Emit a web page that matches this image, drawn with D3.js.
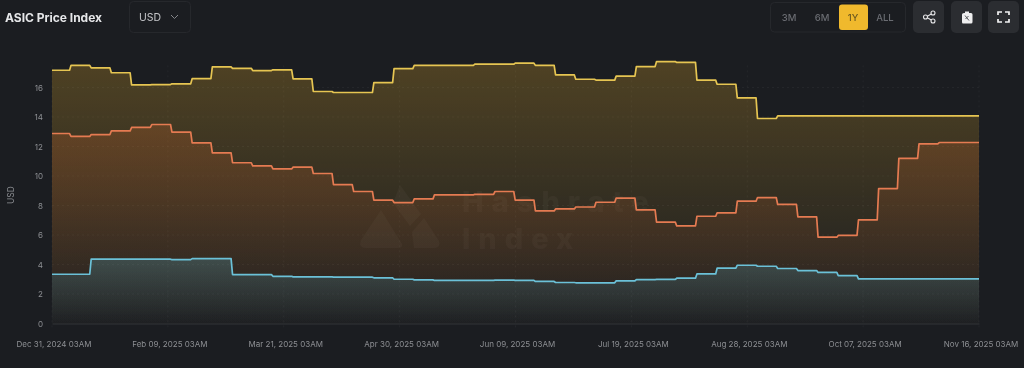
<!DOCTYPE html>
<html>
<head>
<meta charset="utf-8">
<script src="https://cdn.jsdelivr.net/npm/d3@7"></script>
<style>
  html, body { margin: 0; padding: 0; background: #1b1d21; overflow: hidden; }
  svg { display: block; font-family: Inter, "Noto Sans", sans-serif; filter: blur(0.45px); }
</style>
</head>
<body>
<div id="chart"></div>
<script>
// weekly index values, one per step
var yellowValues = [17.17, 17.5, 17.33, 17.0, 16.18, 16.2, 16.25, 16.6, 17.4, 17.3, 17.15, 17.2, 16.58, 15.73, 15.66, 15.66,
  16.33, 17.28, 17.5, 17.5, 17.5, 17.58, 17.58, 17.65, 17.5, 16.85, 16.56, 16.5, 16.77, 17.42, 17.76, 17.7,
  16.5, 16.22, 15.3, 13.9, 14.08, 14.08, 14.08, 14.08, 14.08, 14.08, 14.08, 14.08, 14.08, 14.08];
var orangeValues = [12.88, 12.68, 12.81, 13.06, 13.29, 13.49, 12.97, 12.24, 11.57, 10.9, 10.68, 10.48, 10.6, 10.17, 9.42, 8.95,
  8.36, 8.2, 8.45, 8.72, 8.72, 8.76, 8.95, 8.36, 7.63, 7.77, 7.9, 8.22, 8.5, 7.7, 6.87, 6.62,
  7.27, 7.5, 8.29, 8.54, 8.07, 7.23, 5.85, 5.97, 7.02, 9.15, 11.19, 12.18, 12.27, 12.27];
var blueValues = [3.34, 3.34, 4.36, 4.36, 4.36, 4.36, 4.33, 4.4, 4.4, 3.32, 3.31, 3.2, 3.16, 3.16, 3.14, 3.14,
  3.1, 3.0, 2.96, 2.92, 2.92, 2.92, 2.94, 2.92, 2.85, 2.78, 2.76, 2.76, 2.89, 2.98, 2.99, 3.07,
  3.36, 3.75, 3.95, 3.88, 3.73, 3.59, 3.46, 3.25, 3.03, 3.03, 3.03, 3.03, 3.03, 3.03];
var tickDates = ["2024-12-31", "2025-02-09", "2025-03-21", "2025-04-30", "2025-06-09", "2025-07-19", "2025-08-28", "2025-10-07", "2025-11-16"];
var yTicks = [0, 2, 4, 6, 8, 10, 12, 14, 16];
var rangeButtons = ["3M", "6M", "1Y", "ALL"];

var width = 1024, height = 368;
var margin = { top: 56, right: 45, bottom: 44.5, left: 52 };

var parse = d3.utcParse("%Y-%m-%d");
var fmt = d3.utcFormat("%b %d, %Y 03AM");
var DAY = 86400000;
var startTime = parse(tickDates[0]).getTime();
var endDate = parse(tickDates[tickDates.length - 1]);

var x = d3.scaleUtc()
  .domain([parse(tickDates[0]), endDate])
  .range([margin.left, width - margin.right]);
var y = d3.scaleLinear()
  .domain([0, 18])
  .range([height - margin.bottom, height - margin.bottom - 18 * 14.75]);

// the steps are a bit under a week apart and take about half a day to rise
function stepStart(i) {
  return i === 0 ? 0 : 6.56 + (i - 1) * 6.97;
}
function toPoints(values) {
  var pts = [];
  values.forEach(function (v, i) {
    var from = stepStart(i), to = i === values.length - 1 ? 320 : stepStart(i + 1) - 0.5;
    pts.push({ date: new Date(startTime + from * DAY), value: v });
    pts.push({ date: new Date(startTime + to * DAY), value: v });
  });
  return pts;
}

var svg = d3.select("#chart").append("svg")
  .attr("width", width)
  .attr("height", height);

var defs = svg.append("defs");

var series = [
  { name: "yellow", values: yellowValues, line: "#e6c552", top: "#c9992a", opacity: 0.30 },
  { name: "orange", values: orangeValues, line: "#e57b52", top: "#c9642c", opacity: 0.25 },
  { name: "blue", values: blueValues, line: "#6bc1d8", top: "#58b4cc", opacity: 0.24 }
];

series.forEach(function (s) {
  var g = defs.append("linearGradient")
    .attr("id", "grad-" + s.name)
    .attr("x1", 0).attr("y1", 0).attr("x2", 0).attr("y2", 1);
  g.append("stop").attr("offset", "0%").attr("stop-color", s.top).attr("stop-opacity", s.opacity);
  g.append("stop").attr("offset", "100%").attr("stop-color", s.top).attr("stop-opacity", 0.01);
});

// watermark
var wm = svg.append("g").attr("fill", "#ffffff").attr("fill-opacity", 0.03);
wm.append("path").attr("d", "M400,185 L421,214 L410,226 L393,203 Z");
wm.append("path").attr("d", "M381,210 L402,244 Q403,248 398,248 L366,248 Q358,248 361,240 Z");
wm.append("path").attr("d", "M412,232 L424,218 L439,241 Q441,248 434,248 L414,248 Z");
wm.append("text").attr("x", 462).attr("y", 212).attr("font-size", 29).attr("font-weight", 800).attr("letter-spacing", 8).text("Hashrate");
wm.append("text").attr("x", 462).attr("y", 249).attr("font-size", 29).attr("font-weight", 800).attr("letter-spacing", 8).text("Index");

// grid
svg.append("g").selectAll("line")
  .data(yTicks.slice(1))
  .enter().append("line")
  .attr("x1", margin.left).attr("x2", width - margin.right)
  .attr("y1", function (d) { return y(d); }).attr("y2", function (d) { return y(d); })
  .attr("stroke", "#ffffff").attr("stroke-opacity", 0.045).attr("stroke-dasharray", "2,3");
svg.append("g").selectAll("line")
  .data(tickDates)
  .enter().append("line")
  .attr("x1", function (d) { return x(parse(d)); }).attr("x2", function (d) { return x(parse(d)); })
  .attr("y1", y(17.5)).attr("y2", y(0) + 5)
  .attr("stroke", "#ffffff").attr("stroke-opacity", 0.045).attr("stroke-dasharray", "2,3");

var area = d3.area()
  .x(function (d) { return x(d.date); })
  .y0(y(0))
  .y1(function (d) { return y(d.value); });
var line = d3.line()
  .x(function (d) { return x(d.date); })
  .y(function (d) { return y(d.value); });

series.forEach(function (s) {
  var pts = toPoints(s.values);
  svg.append("path").datum(pts)
    .attr("d", area)
    .attr("fill", "url(#grad-" + s.name + ")");
  svg.append("path").datum(pts)
    .attr("d", line)
    .attr("fill", "none")
    .attr("stroke", s.line)
    .attr("stroke-width", 1.7)
    .attr("stroke-linejoin", "round");
});

// axes
var xAxis = d3.axisBottom(x)
  .tickValues(tickDates.map(parse))
  .tickFormat(fmt)
  .tickSize(0)
  .tickPadding(18);
var gx = svg.append("g")
  .attr("transform", "translate(0," + y(0) + ")")
  .call(xAxis);
gx.select(".domain").attr("stroke", "#ffffff").attr("stroke-opacity", 0.1);
gx.selectAll("text").attr("fill", "#8d8f93").attr("font-size", 8).attr("dx", 1.5).attr("font-family", "Inter, sans-serif");

var yAxis = d3.axisLeft(y)
  .tickValues(yTicks)
  .tickSize(0)
  .tickPadding(9);
var gy = svg.append("g")
  .attr("transform", "translate(" + margin.left + ",0)")
  .call(yAxis);
gy.select(".domain").remove();
gy.selectAll("text").attr("fill", "#8d8f93").attr("font-size", 8).attr("font-family", "Inter, sans-serif");

svg.append("text")
  .attr("transform", "translate(14,195) rotate(-90)")
  .attr("text-anchor", "middle")
  .attr("fill", "#8d8f93")
  .attr("font-size", 8.5)
  .text("USD");

// header
svg.append("text")
  .attr("x", 5).attr("y", 22)
  .attr("fill", "#e6e7e9")
  .attr("font-size", 12)
  .attr("font-weight", 700)
  .text("ASIC Price Index");

svg.append("rect")
  .attr("x", 129.5).attr("y", 1.5).attr("width", 61).attr("height", 31).attr("rx", 4)
  .attr("fill", "none").attr("stroke", "#26282c");
svg.append("text")
  .attr("x", 139).attr("y", 21)
  .attr("fill", "#c4c5c8").attr("font-size", 10.5)
  .text("USD");
svg.append("path")
  .attr("d", "M171,15 L174.5,18.5 L178,15")
  .attr("fill", "none").attr("stroke", "#85878b").attr("stroke-width", 1);

svg.append("rect")
  .attr("x", 770.5).attr("y", 2.5).attr("width", 135).attr("height", 29.5).attr("rx", 4)
  .attr("fill", "none").attr("stroke", "#26282c");
svg.append("rect")
  .attr("x", 839).attr("y", 4.5).attr("width", 29).attr("height", 25.5).attr("rx", 3)
  .attr("fill", "#f0b92d");
svg.append("g").selectAll("text")
  .data(rangeButtons)
  .enter().append("text")
  .attr("x", function (d, i) { return [789, 822, 853, 885][i]; })
  .attr("y", 21)
  .attr("text-anchor", "middle")
  .attr("font-size", 9.5)
  .attr("font-weight", 500)
  .attr("fill", function (d) { return d === "1Y" ? "#6e5a20" : "#6a6c72"; })
  .text(function (d) { return d; });

var iconBoxes = [913, 951, 988];
svg.append("g").selectAll("rect")
  .data(iconBoxes)
  .enter().append("rect")
  .attr("x", function (d) { return d; })
  .attr("y", 1).attr("width", 31).attr("height", 32).attr("rx", 5)
  .attr("fill", "#2b2d31");

// share icon
var share = svg.append("g").attr("stroke", "#e8e8ea").attr("fill", "none").attr("stroke-width", 1.1);
share.append("path").attr("d", "M933,13 L926,17 L933,21");
share.append("circle").attr("cx", 933).attr("cy", 13).attr("r", 2).attr("fill", "#2b2d31");
share.append("circle").attr("cx", 925.5).attr("cy", 17).attr("r", 2).attr("fill", "#2b2d31");
share.append("circle").attr("cx", 933).attr("cy", 21).attr("r", 2).attr("fill", "#2b2d31");

// clipboard icon
svg.append("path")
  .attr("d", "M964,13 L965,13 L965,11.5 L969,11.5 L969,13 L971,13 Q972.5,13 972.5,14.5 L972.5,22 Q972.5,23.5 971,23.5 L963,23.5 Q962,23.5 962,22 L962,14.5 Q962,13 964,13 Z")
  .attr("fill", "#eeeeef");
svg.append("path")
  .attr("d", "M965,15.5 L969,20.5 M968.5,16 L965.5,19")
  .attr("stroke", "#55575b").attr("stroke-width", 1).attr("fill", "none");

// fullscreen icon
svg.append("path")
  .attr("d", "M998,15 L998,12 L1002,12 M1005,12 L1009,12 L1009,15 M1009,19 L1009,22 L1005,22 M1002,22 L998,22 L998,19")
  .attr("fill", "none").attr("stroke", "#f2f2f3").attr("stroke-width", 1.7);
</script>
</body>
</html>
